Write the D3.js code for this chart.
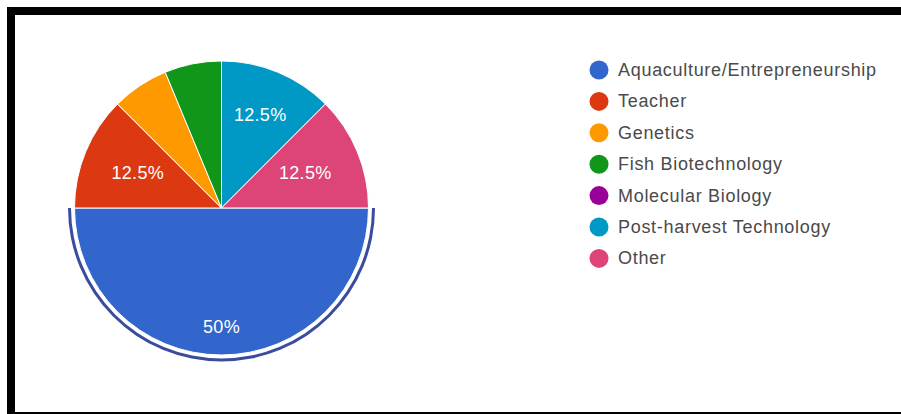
<!DOCTYPE html>
<html>
<head>
<meta charset="utf-8">
<script src="https://cdn.jsdelivr.net/npm/d3@7"></script>
<style>
  html, body { margin: 0; padding: 0; background: #ffffff; }
  svg { display: block; }
  text { font-family: Arial, "Liberation Sans", sans-serif; }
</style>
</head>
<body>
<svg id="chart" width="901" height="414"></svg>
<script>
// Survey answers: preferred field of work
const categories = [
  "Aquaculture/Entrepreneurship",
  "Teacher",
  "Genetics",
  "Fish Biotechnology",
  "Molecular Biology",
  "Post-harvest Technology",
  "Other"
];
const responses = [8, 2, 1, 1, 0, 2, 2];
const sliceColors = ["#3366cc", "#dc3912", "#ff9900", "#109618", "#990099", "#0099c6", "#dd4477"];
const highlighted = "Aquaculture/Entrepreneurship";

const W = 901, H = 414;
const svg = d3.select("#chart");

// Frame around the card (right and bottom run past the window edge)
svg.append("rect")
  .attr("x", 11).attr("y", 11)
  .attr("width", 1000).attr("height", 405)
  .attr("fill", "#ffffff")
  .attr("stroke", "#000000")
  .attr("stroke-width", 8);

const data = categories.map((c, i) => ({ name: c, value: responses[i], color: sliceColors[i] }));
const total = d3.sum(responses);

const cx = 221.5, cy = 208, r = 147;

// Slices start at 3 o'clock and run clockwise
const pie = d3.pie()
  .value(d => d.value)
  .sort(null)
  .startAngle(Math.PI / 2)
  .endAngle(Math.PI / 2 + 2 * Math.PI);

const arcs = pie(data);
const arc = d3.arc().innerRadius(0).outerRadius(r);

const g = svg.append("g").attr("transform", `translate(${cx},${cy})`);

g.selectAll("path.slice")
  .data(arcs.filter(a => a.value > 0))
  .join("path")
  .attr("class", "slice")
  .attr("d", arc)
  .attr("fill", d => d.data.color)
  .attr("stroke", "#ffffff")
  .attr("stroke-width", 1);

// Selection ring around the highlighted slice
const ringArc = d3.arc().innerRadius(r + 3.5).outerRadius(r + 6.5);
g.selectAll("path.ring")
  .data(arcs.filter(a => a.data.name === highlighted))
  .join("path")
  .attr("class", "ring")
  .attr("d", ringArc)
  .attr("fill", "#3a4c9e");

// Percentage labels inside the slices large enough to hold them
const fmt = v => {
  const p = v / total * 100;
  return (Math.round(p * 10) / 10) + "%";
};
const labelled = arcs.filter(a => a.value / total >= 0.1);
const labels = g.selectAll("text.pct")
  .data(labelled)
  .join("text")
  .attr("class", "pct")
  .attr("text-anchor", "middle")
  .attr("dominant-baseline", "central")
  .attr("fill", "#ffffff")
  .attr("font-size", 18)
  .attr("letter-spacing", 0.3)
  .text(d => fmt(d.value));

labels.each(function(d) {
  const bb = this.getBBox();
  const hw = bb.width / 2, hh = 7;
  const a = (d.startAngle + d.endAngle) / 2;
  const ux = Math.sin(a), uy = -Math.cos(a);
  const extent = hw * Math.abs(ux) + hh * Math.abs(uy);
  const outer = (d.value / total > 0.25 ? 0.86 : 0.8) * r;
  const dist = outer - extent;
  d3.select(this).attr("x", ux * dist).attr("y", uy * dist);
});

// Legend
const legend = svg.append("g").attr("transform", "translate(599,70)");
const step = 31.4;
const items = legend.selectAll("g.item")
  .data(data)
  .join("g")
  .attr("class", "item")
  .attr("transform", (d, i) => `translate(0,${i * step})`);

items.append("circle")
  .attr("r", 9.5)
  .attr("fill", d => d.color);

items.append("text")
  .attr("x", 19)
  .attr("dominant-baseline", "central")
  .attr("font-size", 18)
  .attr("letter-spacing", 0.7)
  .attr("fill", "#4a4a4a")
  .text(d => d.name);
</script>
</body>
</html>
